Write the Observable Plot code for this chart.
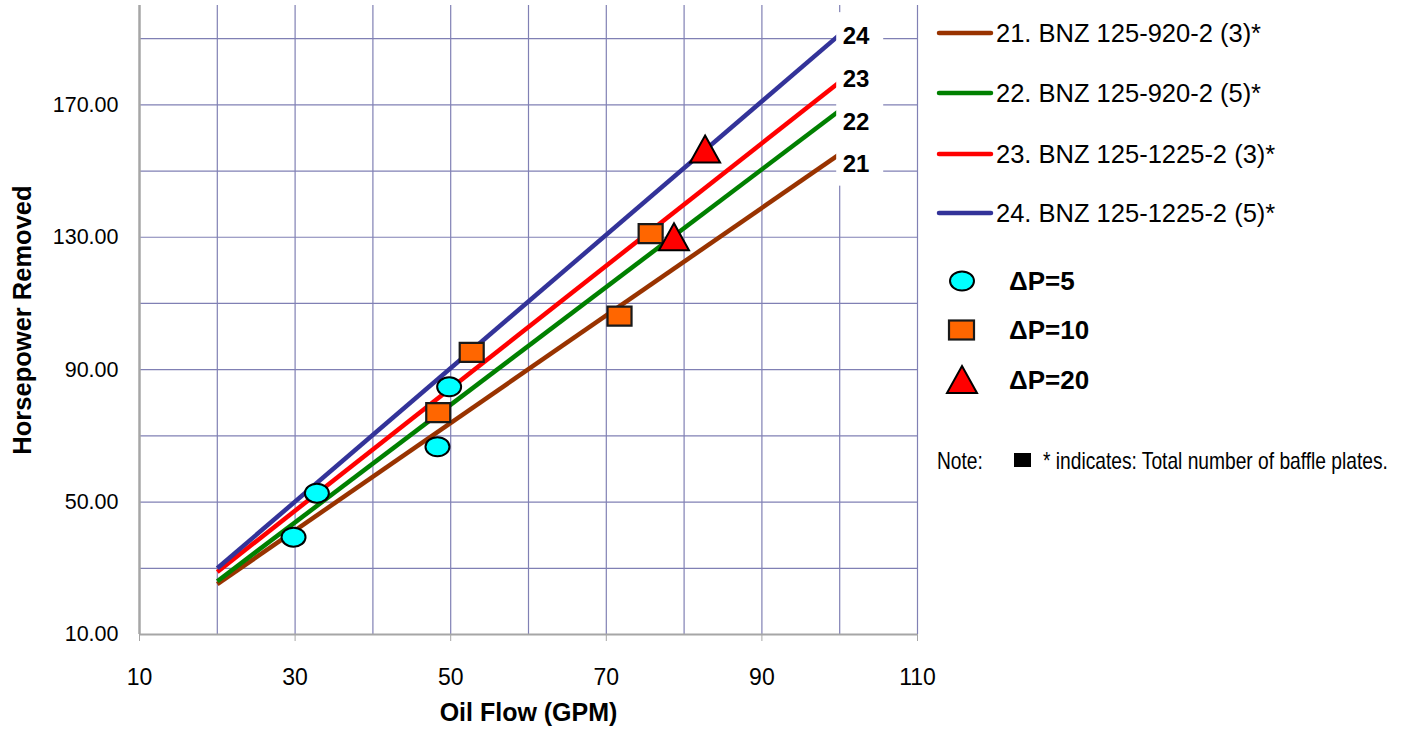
<!DOCTYPE html>
<html><head><meta charset="utf-8">
<script src="https://cdn.jsdelivr.net/npm/d3@7"></script>
<script src="https://cdn.jsdelivr.net/npm/@observablehq/plot@0.6"></script>
<style>
body{margin:0;background:#fff;font-family:"Liberation Sans",Arial,sans-serif;}
#wrap{position:relative;width:1411px;height:738px;overflow:hidden;background:#fff}
#chart{position:absolute;left:0;top:0}
#legend{position:absolute;left:0;top:0}
</style></head><body>
<div id="wrap"><div id="chart"></div>
<svg id="legend" width="1411" height="738" xmlns="http://www.w3.org/2000/svg" font-family="Liberation Sans, Arial, sans-serif"></svg>
</div>
<script>
// ---- data ----
const seriesIds = ["21", "22", "23", "24"];
const seriesNames = ["21. BNZ 125-920-2 (3)*", "22. BNZ 125-920-2 (5)*", "23. BNZ 125-1225-2 (3)*", "24. BNZ 125-1225-2 (5)*"];
const seriesColors = ["#993300", "#008000", "#ff0000", "#333399"];
const lineFlow = [20, 100];
const hp21 = [25.2, 155.1];
const hp22 = [26.1, 168.3];
const hp23 = [28.9, 176.9];
const hp24 = [30.0, 191.2];
const dp5Flow = [29.8, 32.8, 48.3, 49.8];
const dp5HP = [39.4, 52.7, 66.7, 84.8];
const dp10Flow = [48.4, 52.7, 71.7, 75.7];
const dp10HP = [77.0, 95.2, 106.2, 131.1];
const dp20Flow = [78.7, 82.7];
const dp20HP = [130.0, 156.5];
const xTicks = [10, 30, 50, 70, 90, 110];
const yTicks = [10, 50, 90, 130, 170];
const markerNames = ["ΔP=5", "ΔP=10", "ΔP=20"];
const noteText = "* indicates: Total number of baffle plates.";

// ---- tables ----
const hpSeries = [hp21, hp22, hp23, hp24];
const lineRows = seriesIds.flatMap((id, i) => lineFlow.map((f, j) => ({id, flow: f, hp: hpSeries[i][j]})));
const endRows = seriesIds.map((id, i) => ({id, flow: lineFlow[lineFlow.length - 1], hp: hpSeries[i][hpSeries[i].length - 1]}));
const toRows = (xs, ys) => xs.map((x, i) => ({flow: x, hp: ys[i]}));
const dp5 = toRows(dp5Flow, dp5HP), dp10 = toRows(dp10Flow, dp10HP), dp20 = toRows(dp20Flow, dp20HP);

// ---- custom symbols ----
const K = 0.5523;
const ellipseSym = {draw(c) {const rx = 12, ry = 9.5;
  c.moveTo(rx, 0); c.bezierCurveTo(rx, ry*K, rx*K, ry, 0, ry); c.bezierCurveTo(-rx*K, ry, -rx, ry*K, -rx, 0);
  c.bezierCurveTo(-rx, -ry*K, -rx*K, -ry, 0, -ry); c.bezierCurveTo(rx*K, -ry, rx, -ry*K, rx, 0); c.closePath();}};
const rectSym = {draw(c) {c.moveTo(-12, -9.5); c.lineTo(12, -9.5); c.lineTo(12, 9.5); c.lineTo(-12, 9.5); c.closePath();}};
const triSym = {draw(c) {c.moveTo(0, -14); c.lineTo(15, 13); c.lineTo(-15, 13); c.closePath();}};

const labelDy = {"24": 2, "23": -3, "22": 12, "21": 10};
const gridColor = "#8080b4";
const axisColor = "#a6a6a6";

const chart = Plot.plot({
  width: 960, height: 738,
  marginLeft: 139, marginRight: 43, marginTop: 5, marginBottom: 104,
  style: {fontFamily: "Liberation Sans, Arial, sans-serif", color: "black", background: "white", overflow: "visible"},
  x: {domain: [10, 110]},
  y: {domain: [10, 200]},
  color: {domain: seriesIds, range: seriesColors},
  marks: [
    Plot.gridX({ticks: d3.range(20, 111, 10), stroke: gridColor, strokeOpacity: 1, strokeWidth: 1.2}),
    Plot.gridY({ticks: d3.range(30, 191, 20), stroke: gridColor, strokeOpacity: 1, strokeWidth: 1.2}),
    Plot.ruleX([10], {stroke: axisColor, strokeWidth: 2.5}),
    Plot.ruleY([10], {stroke: axisColor, strokeWidth: 2}),
    Plot.axisX({ticks: xTicks, tickSize: 7, tickPadding: 27, stroke: axisColor, fontSize: 23, label: null}),
    Plot.axisY({ticks: yTicks, tickSize: 0, tickPadding: 21, fontSize: 21.5, tickFormat: d => d.toFixed(2), label: null}),
    Plot.line(lineRows, {x: "flow", y: "hp", z: "id", stroke: "id", strokeWidth: 4.5, strokeLinecap: "butt"}),
    Plot.rect([0], {x1: () => d3.max(endRows, d => d.flow), x2: () => d3.max(endRows, d => d.flow),
      y1: () => d3.min(endRows, d => d.hp), y2: () => d3.max(endRows, d => d.hp),
      insetLeft: -3, insetRight: -44, insetTop: -22, insetBottom: -32, fill: "white"}),
    ...seriesIds.map(id => Plot.text(endRows.filter(d => d.id === id), {x: "flow", y: "hp", text: "id",
      textAnchor: "start", dx: 3, dy: labelDy[id], fontSize: 24, fontWeight: "bold", fill: "black"})),
    Plot.dot(dp5, {x: "flow", y: "hp", symbol: ellipseSym, r: 10, fill: "#00ffff", stroke: "black", strokeWidth: 2}),
    Plot.dot(dp10, {x: "flow", y: "hp", symbol: rectSym, r: 10, fill: "#ff6600", stroke: "#1a1a1a", strokeWidth: 2.2}),
    Plot.dot(dp20, {x: "flow", y: "hp", symbol: triSym, r: 10, fill: "#ff0000", stroke: "black", strokeWidth: 2}),
    Plot.text(["Oil Flow (GPM)"], {frameAnchor: "bottom", dy: 86, fontSize: 25, fontWeight: "bold", fill: "black"}),
    Plot.text(["Horsepower Removed"], {frameAnchor: "left", textAnchor: "middle", dx: -117, rotate: -90, fontSize: 25.5, fontWeight: "bold", fill: "black"})
  ]
});
document.getElementById("chart").appendChild(chart);

// ---- legend (drawn beside the chart) ----
const NS = "http://www.w3.org/2000/svg";
const leg = document.getElementById("legend");
function el(tag, attrs, text) {
  const e = document.createElementNS(NS, tag);
  for (const k in attrs) e.setAttribute(k, attrs[k]);
  if (text != null) e.textContent = text;
  leg.appendChild(e); return e;
}
const lineY = [33, 93, 154, 213];
seriesNames.forEach((name, i) => {
  el("line", {x1: 939, x2: 991, y1: lineY[i], y2: lineY[i], stroke: seriesColors[i], "stroke-width": 4.5, "stroke-linecap": "round"});
  el("text", {x: 996, y: lineY[i], dy: "0.36em", "font-size": 25.5, fill: "black"}, name);
});
const mY = [281, 330, 380];
el("ellipse", {cx: 962, cy: mY[0], rx: 12, ry: 9.5, fill: "#00ffff", stroke: "black", "stroke-width": 2});
el("rect", {x: 949, y: mY[1] - 9.5, width: 25, height: 19, fill: "#ff6600", stroke: "#1a1a1a", "stroke-width": 2.2});
el("polygon", {points: `962,${mY[2]-14} 977,${mY[2]+13} 947,${mY[2]+13}`, fill: "#ff0000", stroke: "black", "stroke-width": 2});
markerNames.forEach((n, i) => el("text", {x: 1009, y: mY[i], dy: "0.36em", "font-size": 26, "font-weight": "bold", fill: "black"}, n));
el("text", {transform: "translate(937,460) scale(0.8,1)", dy: "0.36em", "font-size": 24, fill: "black"}, "Note:");
el("rect", {x: 1014, y: 453, width: 17, height: 14, fill: "black"});
el("text", {transform: "translate(1043,460) scale(0.8,1)", dy: "0.36em", "font-size": 24, fill: "black"}, noteText);
</script>
</body></html>
